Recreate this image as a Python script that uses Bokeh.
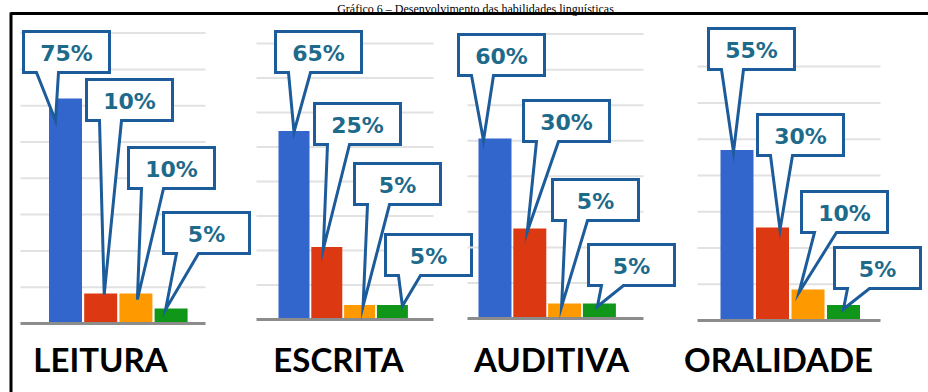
from bokeh.plotting import figure
from bokeh.models import Range1d, ColumnDataSource
from bokeh.embed import file_html
from bokeh.resources import INLINE
from bokeh.core.properties import value

# ---------------- data ----------------
categories = ["LEITURA", "ESCRITA", "AUDITIVA", "ORALIDADE"]
serie_azul = [75, 65, 60, 55]
serie_vermelha = [10, 25, 30, 30]
serie_laranja = [10, 5, 5, 10]
serie_verde = [5, 5, 5, 5]
series = [serie_azul, serie_vermelha, serie_laranja, serie_verde]
title_text = "Gráfico 6 – Desenvolvimento das habilidades linguísticas"

# ---------------- style / layout ----------------
colors = ["#3366cc", "#dc3912", "#ff9900", "#109618"]
W, H = 928, 392
panel_base = [323, 319, 318, 320]          # baseline pixel row of each panel
panel_scale = [3.0, 2.9, 3.0, 3.1]         # pixels per percent
panel_grid = [(20, 205), (256, 433), (467, 643), (697, 880)]
grid_step = [12.1, 11.9, 11.85, 11.7]
grid_count = [8, 8, 8, 7]
bar_x0 = [65, 293.5, 494.5, 736.5]
bar_step = [35.2, 32.8, 34.8, 35.5]
bar_width = [33, 31, 33, 33]
label_x = [100, 338, 551, 778]
label_y = 358
box_w, box_h = 86, 41
notch = (13, 35)
box_pos = [
    [(23, 31), (86, 79), (128, 147), (163, 212)],
    [(275, 31), (314, 103), (354, 163), (385, 234)],
    [(458, 34), (523, 100), (552, 179), (588, 244)],
    [(708, 28), (757, 114), (801, 191), (834, 247)],
]
tip_dx = [[-10, 3.5, 1.5, -5.5], [0, -3.5, 3.5, 10], [-11.5, -2.5, -3, -2], [-3.5, 7.5, -9, 0]]
tip_dip = [[22, 1, 6, 1], [1, 2, 1, 1], [2, 3, 3, 3], [2, 2, 3, 4]]
box_line = "#1c5c9a"
num_color = "#1d6a8b"

p = figure(width=W, height=H, x_range=Range1d(0, W), y_range=Range1d(H, 0),
           x_axis_location=None, y_axis_location=None, toolbar_location=None,
           output_backend="svg", min_border=0, outline_line_color=None,
           background_fill_color="white", border_fill_color="white")
p.grid.visible = False

# title, kept inside the thin band above the frame
p.text(x=[475], y=[1], text=[title_text], text_font=value("Liberation Serif"),
       text_font_size="12px", text_align="center", text_baseline="top",
       text_color="black")

# frame lines
p.line(x=[10, W], y=[13, 13], line_color="black", line_width=3)
p.line(x=[10.5, 10.5], y=[12, H], line_color="black", line_width=3)

for k, cat in enumerate(categories):
    base, sc = panel_base[k], panel_scale[k]
    rname = f"p{k}"
    p.extra_y_ranges[rname] = Range1d(start=(base - H) / sc, end=base / sc)
    x0, x1 = panel_grid[k]
    # gridlines
    gys = [grid_step[k] * (i + 1) for i in range(grid_count[k])]
    p.segment(x0=[x0] * len(gys), x1=[x1] * len(gys), y0=gys, y1=gys,
              line_color="#e2e2e2", line_width=2, y_range_name=rname)
    # bars
    vals = [s[k] for s in series]
    xs = [bar_x0[k] + i * bar_step[k] for i in range(4)]
    src = ColumnDataSource(dict(x=xs, top=vals, color=colors))
    p.vbar(x="x", top="top", bottom=0, width=bar_width[k], fill_color="color",
           line_color=None, source=src, y_range_name=rname)
    # baseline
    p.segment(x0=[x0], x1=[x1], y0=[0], y1=[0], line_color="#8c8c8c",
              line_width=3, y_range_name=rname)
    # callouts
    pxs, pys, tx, ty, tt = [], [], [], [], []
    for i in range(4):
        L, T = box_pos[k][i]
        R, B = L + box_w, T + box_h
        tipx = xs[i] + tip_dx[k][i]
        tipy = base - vals[i] * sc + tip_dip[k][i]
        pxs.append([L, R, R, L + notch[1], tipx, L + notch[0], L])
        pys.append([T, T, B, B, tipy, B, B])
        tx.append(L + box_w / 2)
        ty.append(T + box_h / 2 + 1)
        tt.append(f"{vals[i]}%")
    p.patches(xs=pxs, ys=pys, fill_color="white", line_color=box_line,
              line_width=3, line_join="miter")
    p.text(x=tx, y=ty, text=tt, text_font=value("DejaVu Sans"),
           text_font_style="bold", text_font_size="22px", text_color=num_color,
           text_align="center", text_baseline="middle")
    # category label
    p.text(x=[label_x[k]], y=[label_y], text=[cat], text_font=value("Lato"),
           text_font_style="bold", text_font_size="33px", text_color="black",
           text_align="center", text_baseline="middle")

open("out.html", "w").write(file_html(p, INLINE))
